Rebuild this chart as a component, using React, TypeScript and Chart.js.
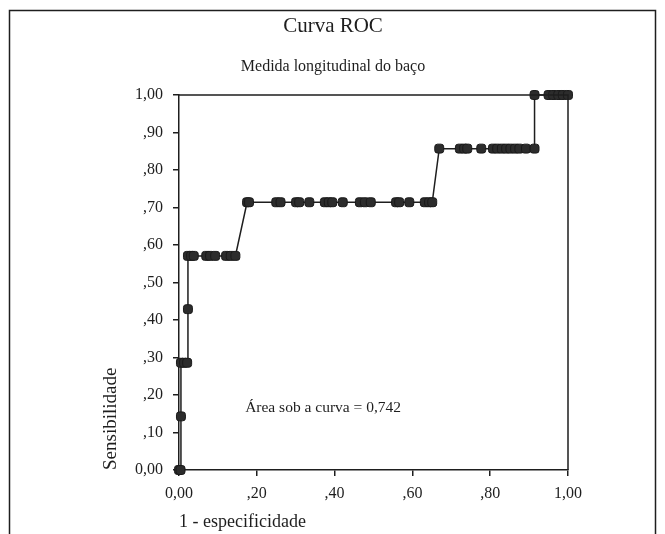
import React, { useEffect, useRef } from "react";
import { Chart, registerables } from "chart.js";

Chart.register(...registerables);

// 1 - especificidade (x) and sensibilidade (y) for each ROC point
const fpr: number[] = [
  0.0, 0.004,
  0.005,
  0.005, 0.013, 0.021,
  0.023,
  0.023, 0.031, 0.038, 0.07, 0.08, 0.093, 0.121, 0.133, 0.145,
  0.175, 0.18, 0.25, 0.261, 0.301, 0.309, 0.335, 0.375, 0.385, 0.394, 0.421,
  0.465, 0.478, 0.493, 0.558, 0.566, 0.592, 0.632, 0.643, 0.651,
  0.669, 0.722, 0.733, 0.741, 0.777, 0.807, 0.818, 0.83, 0.841, 0.852, 0.864,
  0.875, 0.892, 0.914,
  0.914, 0.95, 0.962, 0.975, 0.987, 1.0,
];
const tpr: number[] = [
  0.0, 0.0,
  0.143,
  0.286, 0.286, 0.286,
  0.429,
  0.571, 0.571, 0.571, 0.571, 0.571, 0.571, 0.571, 0.571, 0.571,
  0.714, 0.714, 0.714, 0.714, 0.714, 0.714, 0.714, 0.714, 0.714, 0.714, 0.714,
  0.714, 0.714, 0.714, 0.714, 0.714, 0.714, 0.714, 0.714, 0.714,
  0.857, 0.857, 0.857, 0.857, 0.857, 0.857, 0.857, 0.857, 0.857, 0.857, 0.857,
  0.857, 0.857, 0.857,
  1.0, 1.0, 1.0, 1.0, 1.0, 1.0,
];

const chartTitle = "Curva ROC";
const chartSubtitle = "Medida longitudinal do baço";
const xTitle = "1 - especificidade";
const yTitle = "Sensibilidade";
const areaText = "Área sob a curva = 0,742";
const areaPos = { x: 0.17, y: 0.165 };

const FONT = "'Liberation Serif', 'DejaVu Serif', serif";
const INK = "#1e1e1e";

function fmt(v: number): string {
  const r = Math.round(v * 100);
  if (r === 0) return "0,00";
  if (r === 100) return "1,00";
  return "," + String(r).padStart(2, "0");
}

const decorPlugin = {
  id: "decor",
  beforeDraw(chart: any) {
    const { ctx, width } = chart;
    ctx.save();
    ctx.fillStyle = "#ffffff";
    ctx.fillRect(0, 0, chart.width, chart.height);
    ctx.strokeStyle = INK;
    ctx.lineWidth = 1.5;
    ctx.beginPath();
    ctx.moveTo(9.5, chart.height + 5);
    ctx.lineTo(9.5, 10.5);
    ctx.lineTo(width - 9.5, 10.5);
    ctx.lineTo(width - 9.5, chart.height + 5);
    ctx.stroke();
    ctx.fillStyle = INK;
    ctx.textAlign = "center";
    ctx.textBaseline = "middle";
    ctx.font = `21px ${FONT}`;
    ctx.fillText(chartTitle, 333, 26);
    ctx.font = `16px ${FONT}`;
    ctx.fillText(chartSubtitle, 333, 67);
    ctx.restore();
  },
  afterDatasetsDraw(chart: any) {
    const { ctx, chartArea, scales } = chart;
    ctx.save();
    ctx.strokeStyle = INK;
    ctx.lineWidth = 1.5;
    ctx.beginPath();
    ctx.moveTo(chartArea.left, chartArea.top);
    ctx.lineTo(chartArea.right, chartArea.top);
    ctx.lineTo(chartArea.right, chartArea.bottom);
    ctx.stroke();
    ctx.fillStyle = INK;
    ctx.font = `15.5px ${FONT}`;
    ctx.textAlign = "left";
    ctx.textBaseline = "middle";
    ctx.fillText(
      areaText,
      scales.x.getPixelForValue(areaPos.x),
      scales.y.getPixelForValue(areaPos.y)
    );
    ctx.restore();
  },
};

export default function App() {
  const ref = useRef<HTMLCanvasElement | null>(null);
  useEffect(() => {
    if (!ref.current) return;
    const pts = fpr.map((x, i) => ({ x, y: tpr[i] }));
    const chart = new Chart(ref.current, {
      type: "scatter",
      data: {
        datasets: [
          {
            data: pts,
            showLine: true,
            borderColor: INK,
            borderWidth: 1.5,
            pointStyle: "rectRounded",
            pointRadius: 5.2,
            pointBackgroundColor: "#2c2c2c",
            pointBorderColor: "#1a1a1a",
            pointBorderWidth: 1,
            clip: false,
          } as any,
        ],
      },
      options: {
        animation: false,
        responsive: true,
        maintainAspectRatio: false,
        layout: { padding: { left: 0, top: 95, right: 97, bottom: 0 } },
        plugins: {
          legend: { display: false },
          tooltip: { enabled: false },
          title: { display: false },
        },
        scales: {
          x: {
            type: "linear",
            min: 0,
            max: 1,
            afterFit: (s: any) => {
              s.height = 64;
            },
            ticks: {
              stepSize: 0.2,
              callback: (v: any) => fmt(Number(v)),
              color: INK,
              font: { family: FONT, size: 16 },
              padding: 8,
              maxRotation: 0,
            },
            grid: {
              drawOnChartArea: false,
              drawTicks: true,
              tickLength: 6,
              color: INK,
              lineWidth: 1.5,
            },
            border: { display: true, color: INK, width: 1.5 },
            title: {
              display: true,
              text: xTitle,
              align: "start",
              color: INK,
              font: { family: FONT, size: 18 },
              padding: { top: 0, bottom: 1 },
            },
          },
          y: {
            type: "linear",
            min: 0,
            max: 1,
            afterFit: (s: any) => {
              s.width = 179;
            },
            ticks: {
              stepSize: 0.1,
              callback: (v: any) => fmt(Number(v)),
              color: INK,
              font: { family: FONT, size: 16 },
              padding: 10,
            },
            grid: {
              drawOnChartArea: false,
              drawTicks: true,
              tickLength: 6,
              color: INK,
              lineWidth: 1.5,
            },
            border: { display: true, color: INK, width: 1.5 },
            title: {
              display: true,
              text: yTitle,
              align: "start",
              color: INK,
              font: { family: FONT, size: 19 },
              padding: { top: 100, bottom: 0 },
            },
          },
        },
      },
      plugins: [decorPlugin],
    });
    return () => chart.destroy();
  }, []);
  return (
    <div style={{ position: "absolute", left: 0, top: 0, width: 665, height: 534 }}>
      <canvas ref={ref} />
    </div>
  );
}
